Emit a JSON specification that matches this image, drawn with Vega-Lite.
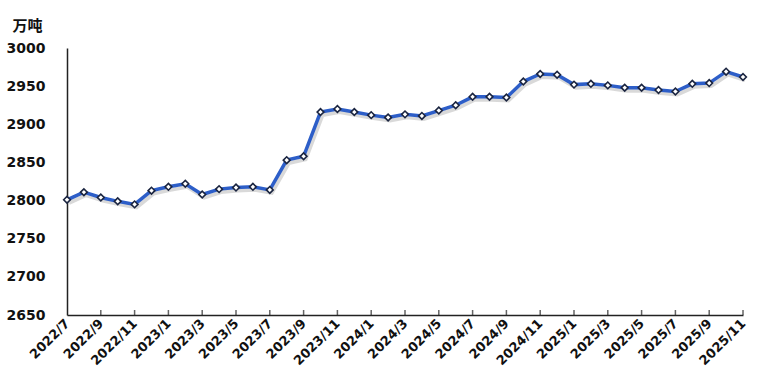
{
  "$schema": "https://vega.github.io/schema/vega-lite/v6.json",
  "autosize": {"type": "none"},
  "padding": {"left": 67, "top": 48, "right": 18, "bottom": 65},
  "width": 676,
  "height": 267,
  "background": "white",
  "config": {"view": {"stroke": null}},
  "data": {"values": [
    {"m": "2022/7", "v": 2801}, {"m": "2022/8", "v": 2811}, {"m": "2022/9", "v": 2804}, {"m": "2022/10", "v": 2799},
    {"m": "2022/11", "v": 2795}, {"m": "2022/12", "v": 2813}, {"m": "2023/1", "v": 2818}, {"m": "2023/2", "v": 2822},
    {"m": "2023/3", "v": 2808}, {"m": "2023/4", "v": 2815}, {"m": "2023/5", "v": 2817}, {"m": "2023/6", "v": 2818},
    {"m": "2023/7", "v": 2814}, {"m": "2023/8", "v": 2853}, {"m": "2023/9", "v": 2858}, {"m": "2023/10", "v": 2916},
    {"m": "2023/11", "v": 2920}, {"m": "2023/12", "v": 2916}, {"m": "2024/1", "v": 2912}, {"m": "2024/2", "v": 2909},
    {"m": "2024/3", "v": 2913}, {"m": "2024/4", "v": 2911}, {"m": "2024/5", "v": 2918}, {"m": "2024/6", "v": 2925},
    {"m": "2024/7", "v": 2936}, {"m": "2024/8", "v": 2936}, {"m": "2024/9", "v": 2935}, {"m": "2024/10", "v": 2956},
    {"m": "2024/11", "v": 2966}, {"m": "2024/12", "v": 2965}, {"m": "2025/1", "v": 2952}, {"m": "2025/2", "v": 2953},
    {"m": "2025/3", "v": 2951}, {"m": "2025/4", "v": 2948}, {"m": "2025/5", "v": 2948}, {"m": "2025/6", "v": 2945},
    {"m": "2025/7", "v": 2943}, {"m": "2025/8", "v": 2953}, {"m": "2025/9", "v": 2954}, {"m": "2025/10", "v": 2969},
    {"m": "2025/11", "v": 2962}
  ]},
  "encoding": {
    "x": {
      "field": "m", "type": "ordinal", "sort": null,
      "scale": {"type": "point", "padding": 0, "domain": ["2022/7","2022/8","2022/9","2022/10","2022/11","2022/12","2023/1","2023/2","2023/3","2023/4","2023/5","2023/6","2023/7","2023/8","2023/9","2023/10","2023/11","2023/12","2024/1","2024/2","2024/3","2024/4","2024/5","2024/6","2024/7","2024/8","2024/9","2024/10","2024/11","2024/12","2025/1","2025/2","2025/3","2025/4","2025/5","2025/6","2025/7","2025/8","2025/9","2025/10","2025/11"]},
      "axis": {
        "title": null,
        "values": ["2022/7","2022/9","2022/11","2023/1","2023/3","2023/5","2023/7","2023/9","2023/11","2024/1","2024/3","2024/5","2024/7","2024/9","2024/11","2025/1","2025/3","2025/5","2025/7","2025/9","2025/11"],
        "labelAngle": -45, "labelAlign": "right", "labelBaseline": "middle",
        "labelFont": "DejaVu Sans", "labelFontSize": 13, "labelFontWeight": "bold", "labelColor": "#111",
        "labelPadding": 6,
        "domainColor": "#222", "domainWidth": 1.5,
        "ticks": false,
        "grid": false
      }
    },
    "y": {
      "field": "v", "type": "quantitative",
      "scale": {"domain": [2650, 3000], "nice": false, "zero": false},
      "axis": {
        "title": "万吨", "titleAngle": 0, "titleX": -55, "titleY": -23, "titleAlign": "left", "titleBaseline": "middle",
        "titleFont": "Noto Sans CJK SC", "titleFontSize": 15, "titleFontWeight": "bold", "titleColor": "#111",
        "values": [2650, 2700, 2750, 2800, 2850, 2900, 2950, 3000],
        "format": "d",
        "labelFont": "DejaVu Sans", "labelFontSize": 14, "labelFontWeight": "bold", "labelColor": "#111",
        "labelPadding": 22,
        "domainColor": "#222", "domainWidth": 1.5,
        "ticks": false, "grid": false
      }
    }
  },
  "layer": [
    {
      "transform": [{"filter": {"field": "m", "oneOf": ["2022/9","2022/11","2023/1","2023/3","2023/5","2023/7","2023/9","2023/11","2024/1","2024/3","2024/5","2024/7","2024/9","2024/11","2025/1","2025/3","2025/5","2025/7","2025/9","2025/11"]}}],
      "mark": {"type": "tick", "orient": "vertical", "color": "#222", "thickness": 1.5, "size": 5, "yOffset": -2.5},
      "encoding": {"y": {"datum": 2650, "type": "quantitative"}}
    },
    {"mark": {"type": "line", "color": "#000", "opacity": 0.15, "strokeWidth": 4, "xOffset": 2, "yOffset": 3}},
    {"mark": {"type": "line", "color": "#2D5EC8", "strokeWidth": 3.5}},
    {"mark": {"type": "point", "shape": "diamond", "filled": true, "fill": "white", "stroke": "#1B2540", "strokeWidth": 1.6, "size": 45, "opacity": 1}}
  ]
}
